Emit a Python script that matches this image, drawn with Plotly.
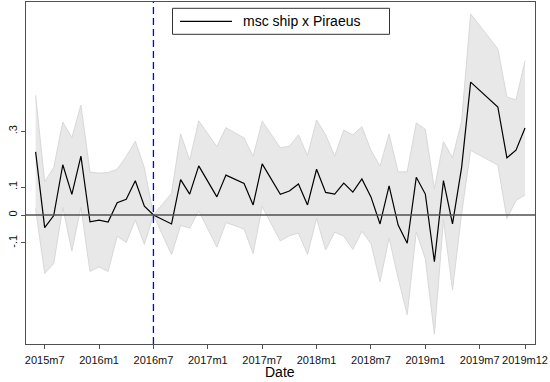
import plotly.graph_objects as go

months = ["2015m6", "2015m7", "2015m8", "2015m9", "2015m10", "2015m11", "2015m12",
          "2016m1", "2016m2", "2016m3", "2016m4", "2016m5", "2016m6", "2016m7",
          "2016m9", "2016m10", "2016m11", "2016m12", "2017m2", "2017m3", "2017m5",
          "2017m6", "2017m7", "2017m9", "2017m10", "2017m11", "2017m12", "2018m1",
          "2018m2", "2018m3", "2018m4", "2018m5", "2018m6", "2018m7", "2018m8",
          "2018m9", "2018m10", "2018m11", "2018m12", "2019m1", "2019m2", "2019m3",
          "2019m4", "2019m5", "2019m6", "2019m9", "2019m10", "2019m11", "2019m12"]

estimate = [0.226, -0.045, -0.002, 0.180, 0.074, 0.211, -0.024,
            -0.018, -0.025, 0.044, 0.056, 0.123, 0.032, 0.000,
            -0.032, 0.127, 0.075, 0.176, 0.065, 0.143, 0.113,
            0.036, 0.183, 0.074, 0.086, 0.111, 0.036, 0.164,
            0.081, 0.075, 0.114, 0.082, 0.129, 0.065, -0.032,
            0.104, -0.036, -0.101, 0.135, 0.075, -0.167, 0.123,
            -0.032, 0.170, 0.476, 0.387, 0.205, 0.232, 0.312]

ci_low = [0.023, -0.209, -0.174, 0.027, -0.129, 0.028, -0.202,
          -0.186, -0.202, -0.076, -0.098, -0.018, -0.105, 0.000,
          -0.142, -0.037, -0.047, 0.015, -0.115, -0.027, -0.050,
          -0.138, 0.030, -0.093, -0.074, -0.065, -0.141, -0.012,
          -0.125, -0.061, -0.076, -0.123, -0.058, -0.102, -0.239,
          -0.082, -0.226, -0.357, -0.060, -0.157, -0.427, -0.017,
          -0.269, 0.005, 0.232, 0.179, -0.013, 0.052, 0.072]

ci_high = [0.429, 0.119, 0.170, 0.333, 0.277, 0.394, 0.154,
           0.150, 0.152, 0.164, 0.210, 0.264, 0.169, 0.000,
           0.078, 0.291, 0.197, 0.337, 0.245, 0.313, 0.276,
           0.210, 0.336, 0.241, 0.246, 0.287, 0.213, 0.340,
           0.287, 0.211, 0.304, 0.287, 0.316, 0.232, 0.175,
           0.290, 0.154, 0.155, 0.330, 0.307, 0.093, 0.263,
           0.205, 0.335, 0.720, 0.595, 0.423, 0.412, 0.552]

tick_labels = ["2015m7", "2016m1", "2016m7", "2017m1", "2017m7", "2018m1",
               "2018m7", "2019m1", "2019m7", "2019m12"]
y_tick_vals = [-0.1, 0, 0.1, 0.3]
y_tick_text = ["-.1", "0", ".1", ".3"]
series_name = "msc ship x Piraeus"
x_title = "Date"
event_month = "2016m7"


def mnum(s):
    y, m = s.split("m")
    return int(y) * 12 + int(m) - 1


x = [mnum(s) for s in months]
FONT = "Liberation Sans, Arial, sans-serif"

fig = go.Figure()
fig.add_trace(go.Scatter(x=x, y=ci_low, mode="lines",
                         line=dict(color="#d8d8d8", width=1),
                         showlegend=False, hoverinfo="skip"))
fig.add_trace(go.Scatter(x=x, y=ci_high, mode="lines", fill="tonexty",
                         fillcolor="#e8e8e8",
                         line=dict(color="#d8d8d8", width=1),
                         showlegend=False, hoverinfo="skip"))
fig.add_trace(go.Scatter(x=x, y=estimate, mode="lines", name=series_name,
                         line=dict(color="black", width=1.2),
                         showlegend=False))

# plot area in pixels: x 26..535, y 2..344
L, R, T, B = 26, 535, 2, 344
def px(v):
    return (v - L) / (R - L)
def py(v):
    return (B - v) / (B - T)

shapes = [
    dict(type="line", xref="paper", yref="y", x0=0, x1=1, y0=0, y1=0,
         line=dict(color="#505050", width=1.3), layer="above"),
    dict(type="line", xref="x", yref="paper", x0=mnum(event_month), x1=mnum(event_month),
         y0=0, y1=1, line=dict(color="#0000ff", width=1.3, dash="7px,4px"), layer="above"),
    # manual legend
    dict(type="rect", xref="paper", yref="paper", x0=px(172.5), x1=px(389.5),
         y0=py(34.3), y1=py(8.3), line=dict(color="#333333", width=1),
         fillcolor="white", layer="above"),
    dict(type="line", xref="paper", yref="paper", x0=px(180), x1=px(232),
         y0=py(21.3), y1=py(21.3), line=dict(color="black", width=1.2), layer="above"),
]

fig.update_layout(
    width=550, height=382,
    margin=dict(l=L, r=550 - R, t=T, b=382 - B),
    paper_bgcolor="white", plot_bgcolor="white",
    font=dict(family=FONT, color="#111111", size=11),
    showlegend=False,
    hovermode=False,
    shapes=shapes,
    annotations=[
        dict(xref="paper", yref="paper", x=px(240.5), y=py(21.3),
             xanchor="left", yanchor="middle", showarrow=False,
             text=series_name, font=dict(size=14, family=FONT, color="black")),
        dict(xref="paper", yref="paper", x=px(280.4), y=py(371.5),
             xanchor="center", yanchor="middle", showarrow=False,
             text=x_title, font=dict(size=14, family=FONT, color="black")),
    ],
)

fig.update_xaxes(
    range=[mnum("2015m7") - 2.06, mnum("2015m7") + 54.1],
    tickvals=[mnum(s) for s in tick_labels], ticktext=tick_labels,
    ticks="outside", ticklen=4, tickcolor="#505050",
    tickfont=dict(size=11, family=FONT), ticklabelstandoff=2,
    showgrid=False, zeroline=False, automargin=False,
    showline=True, linecolor="#505050", linewidth=1.2, mirror=True,
)
fig.update_yaxes(
    range=[-0.462, 0.763],
    tickvals=y_tick_vals, ticktext=y_tick_text, tickangle=-90,
    ticks="outside", ticklen=4, tickcolor="#505050",
    tickfont=dict(size=11, family=FONT),
    showgrid=False, zeroline=False, automargin=False,
    showline=True, linecolor="#505050", linewidth=1.2, mirror=True,
)

fig.write_html("out.html", config={"displayModeBar": False},
               post_script="document.body.style.margin='0';document.body.style.overflow='hidden';")
